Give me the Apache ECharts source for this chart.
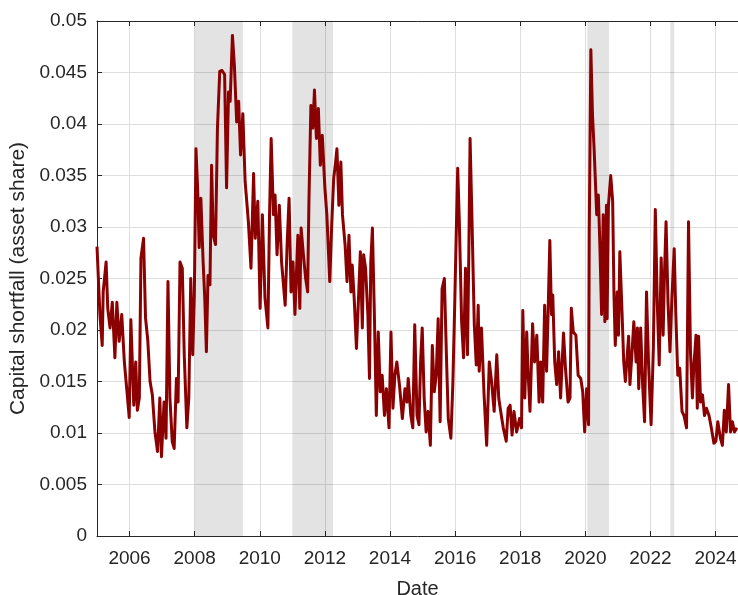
<!DOCTYPE html>
<html>
<head>
<meta charset="utf-8">
<script src="https://cdn.jsdelivr.net/npm/echarts@6/dist/echarts.min.js"></script>
<style>
  html, body { margin: 0; padding: 0; background: #fff; }
  #chart { width: 738px; height: 595px; }
</style>
</head>
<body>
<div id="chart"></div>
<script>
// decimal years
const dates = [
  2005.00, 2005.09, 2005.16, 2005.19, 2005.28, 2005.33, 2005.40, 2005.47, 2005.55, 2005.61,
  2005.68, 2005.76, 2005.84, 2005.91, 2005.99, 2006.04, 2006.13, 2006.19, 2006.24, 2006.30,
  2006.35, 2006.43, 2006.49, 2006.56, 2006.63, 2006.70, 2006.78, 2006.86, 2006.93, 2006.98,
  2007.06, 2007.12, 2007.18, 2007.24, 2007.31, 2007.37, 2007.44, 2007.49, 2007.55, 2007.62,
  2007.68, 2007.76, 2007.82, 2007.88, 2007.94, 2007.99, 2008.04, 2008.09, 2008.14, 2008.19,
  2008.26, 2008.31, 2008.36, 2008.41, 2008.47, 2008.52, 2008.57, 2008.64, 2008.70, 2008.77,
  2008.84, 2008.92, 2008.98, 2009.04, 2009.09, 2009.16, 2009.22, 2009.29, 2009.35, 2009.41,
  2009.48, 2009.55, 2009.61, 2009.65, 2009.73, 2009.81, 2009.86, 2009.94, 2010.01, 2010.08,
  2010.16, 2010.25, 2010.30, 2010.35, 2010.42, 2010.47, 2010.53, 2010.60, 2010.67, 2010.78,
  2010.84, 2010.90, 2010.96, 2011.02, 2011.08, 2011.17, 2011.23, 2011.27, 2011.34, 2011.41,
  2011.47, 2011.51, 2011.57, 2011.63, 2011.68, 2011.74, 2011.80, 2011.86, 2011.92, 2012.00,
  2012.06, 2012.15, 2012.21, 2012.27, 2012.33, 2012.37, 2012.43, 2012.49, 2012.54, 2012.62,
  2012.68, 2012.74, 2012.80, 2012.84, 2012.90, 2012.97, 2013.02, 2013.09, 2013.15, 2013.19,
  2013.25, 2013.32, 2013.37, 2013.41, 2013.46, 2013.52, 2013.58, 2013.64, 2013.70, 2013.76,
  2013.83, 2013.89, 2013.97, 2014.03, 2014.09, 2014.15, 2014.21, 2014.29, 2014.38, 2014.46,
  2014.52, 2014.56, 2014.64, 2014.70, 2014.76, 2014.83, 2014.89, 2014.94, 2014.99, 2015.05,
  2015.11, 2015.17, 2015.24, 2015.30, 2015.36, 2015.42, 2015.48, 2015.54, 2015.60, 2015.67,
  2015.73, 2015.79, 2015.87, 2015.93, 2015.99, 2016.03, 2016.08, 2016.13, 2016.20, 2016.26,
  2016.32, 2016.38, 2016.42, 2016.46, 2016.52, 2016.59, 2016.65, 2016.71, 2016.74, 2016.81,
  2016.89, 2016.97, 2017.05, 2017.12, 2017.20, 2017.28, 2017.34, 2017.40, 2017.48, 2017.57,
  2017.63, 2017.69, 2017.75, 2017.81, 2017.89, 2017.98, 2018.04, 2018.08, 2018.14, 2018.20,
  2018.24, 2018.30, 2018.38, 2018.44, 2018.51, 2018.58, 2018.63, 2018.69, 2018.75, 2018.81,
  2018.86, 2018.91, 2018.96, 2019.00, 2019.06, 2019.12, 2019.18, 2019.24, 2019.33, 2019.39,
  2019.47, 2019.53, 2019.57, 2019.63, 2019.71, 2019.78, 2019.86, 2019.92, 2019.98, 2020.04,
  2020.10, 2020.12, 2020.17, 2020.22, 2020.27, 2020.31, 2020.35, 2020.40, 2020.45, 2020.50,
  2020.55, 2020.60, 2020.65, 2020.67, 2020.71, 2020.78, 2020.84, 2020.88, 2020.92, 2020.98,
  2021.02, 2021.06, 2021.13, 2021.18, 2021.23, 2021.29, 2021.33, 2021.37, 2021.43, 2021.49,
  2021.56, 2021.60, 2021.64, 2021.70, 2021.76, 2021.82, 2021.88, 2021.94, 2022.02, 2022.09,
  2022.15, 2022.21, 2022.27, 2022.33, 2022.39, 2022.43, 2022.48, 2022.54, 2022.60, 2022.66,
  2022.73, 2022.78, 2022.84, 2022.90, 2022.97, 2023.03, 2023.11, 2023.17, 2023.23, 2023.29,
  2023.33, 2023.40, 2023.44, 2023.48, 2023.54, 2023.60, 2023.66, 2023.72, 2023.80, 2023.87,
  2023.95, 2024.01, 2024.07, 2024.15, 2024.21, 2024.27, 2024.33, 2024.40, 2024.46, 2024.52,
  2024.58, 2024.66
]

const shortfall = [
  0.0281, 0.0215, 0.0185, 0.0237, 0.0266, 0.0221, 0.0202, 0.0227, 0.0173, 0.0227,
  0.0189, 0.0215, 0.0169, 0.0144, 0.0115, 0.0210, 0.0127, 0.0169, 0.0122, 0.0134,
  0.0270, 0.0289, 0.0212, 0.0190, 0.0150, 0.0137, 0.0101, 0.0082, 0.0134, 0.0077,
  0.0130, 0.0095, 0.0247, 0.0134, 0.0092, 0.0085, 0.0153, 0.0130, 0.0266, 0.0260,
  0.0176, 0.0105, 0.0134, 0.0250, 0.0176, 0.0234, 0.0376, 0.0338, 0.0280, 0.0328,
  0.0266, 0.0231, 0.0179, 0.0253, 0.0244, 0.0360, 0.0292, 0.0283, 0.0396, 0.0451,
  0.0452, 0.0448, 0.0338, 0.0431, 0.0422, 0.0486, 0.0457, 0.0402, 0.0422, 0.0370,
  0.0410, 0.0344, 0.0321, 0.0305, 0.0260, 0.0352, 0.0289, 0.0325, 0.0221, 0.0312,
  0.0231, 0.0202, 0.0312, 0.0386, 0.0312, 0.0331, 0.0273, 0.0321, 0.0266, 0.0224,
  0.0283, 0.0328, 0.0237, 0.0266, 0.0215, 0.0292, 0.0221, 0.0299, 0.0273, 0.0250,
  0.0237, 0.0325, 0.0418, 0.0396, 0.0433, 0.0386, 0.0415, 0.0360, 0.0389, 0.0338,
  0.0312, 0.0247, 0.0302, 0.0347, 0.0363, 0.0376, 0.0321, 0.0363, 0.0312, 0.0283,
  0.0247, 0.0292, 0.0237, 0.0263, 0.0231, 0.0182, 0.0221, 0.0276, 0.0202, 0.0273,
  0.0260, 0.0215, 0.0153, 0.0266, 0.0299, 0.0215, 0.0117, 0.0198, 0.0140, 0.0156,
  0.0117, 0.0143, 0.0105, 0.0198, 0.0124, 0.0156, 0.0169, 0.0147, 0.0114, 0.0143,
  0.0130, 0.0153, 0.0117, 0.0105, 0.0205, 0.0117, 0.0108, 0.0169, 0.0202, 0.0134,
  0.0101, 0.0121, 0.0088, 0.0185, 0.0140, 0.0156, 0.0211, 0.0111, 0.0240, 0.0250,
  0.0179, 0.0114, 0.0095, 0.0147, 0.0227, 0.0286, 0.0357, 0.0305, 0.0208, 0.0173,
  0.0260, 0.0176, 0.0270, 0.0386, 0.0305, 0.0205, 0.0166, 0.0224, 0.0160, 0.0202,
  0.0137, 0.0088, 0.0169, 0.0150, 0.0121, 0.0176, 0.0134, 0.0121, 0.0105, 0.0092,
  0.0124, 0.0127, 0.0098, 0.0121, 0.0101, 0.0114, 0.0105, 0.0219, 0.0134, 0.0198,
  0.0160, 0.0121, 0.0206, 0.0169, 0.0195, 0.0130, 0.0169, 0.0130, 0.0224, 0.0160,
  0.0221, 0.0287, 0.0215, 0.0234, 0.0169, 0.0147, 0.0179, 0.0134, 0.0197, 0.0163,
  0.0130, 0.0134, 0.0221, 0.0198, 0.0195, 0.0156, 0.0153, 0.0140, 0.0101, 0.0143,
  0.0108, 0.0292, 0.0472, 0.0409, 0.0376, 0.0344, 0.0312, 0.0331, 0.0279, 0.0215,
  0.0312, 0.0208, 0.0321, 0.0211, 0.0321, 0.0350, 0.0325, 0.0234, 0.0185, 0.0237,
  0.0195, 0.0276, 0.0215, 0.0169, 0.0150, 0.0176, 0.0194, 0.0147, 0.0176, 0.0208,
  0.0169, 0.0202, 0.0143, 0.0202, 0.0147, 0.0111, 0.0237, 0.0169, 0.0108, 0.0182,
  0.0317, 0.0227, 0.0166, 0.0270, 0.0195, 0.0253, 0.0305, 0.0227, 0.0179, 0.0231,
  0.0279, 0.0215, 0.0156, 0.0163, 0.0121, 0.0117, 0.0105, 0.0305, 0.0179, 0.0134,
  0.0163, 0.0195, 0.0124, 0.0194, 0.0130, 0.0137, 0.0117, 0.0124, 0.0117, 0.0105,
  0.0090, 0.0092, 0.0111, 0.0095, 0.0088, 0.0122, 0.0101, 0.0147, 0.0101, 0.0111,
  0.0101, 0.0105
]

// shaded periods (start / end in decimal years)
const shadeStart = [2008.00, 2011.00, 2020.06, 2022.61]
const shadeEnd = [2009.48, 2012.25, 2020.73, 2022.73]

const yearTicks = [2006, 2008, 2010, 2012, 2014, 2016, 2018, 2020, 2022, 2024]

const textColor = '#262626'
const font = '"Liberation Sans", Arial, Helvetica, sans-serif'

let chart = echarts.init(document.getElementById('chart'), null, { renderer: 'canvas' })

let points = dates.map((d, i) => [d, shortfall[i]])
let shades = shadeStart.map((s, i) => [{ xAxis: s }, { xAxis: shadeEnd[i] }])

chart.setOption({
    animation: false,
    backgroundColor: '#ffffff',
    grid: {
        left: 97,
        right: 0,
        top: 21,
        bottom: 59,
        containLabel: false,
        outerBoundsMode: 'none'
    },
    xAxis: [
        {
            type: 'value',
            min: 2005,
            max: 2024.69,
            name: 'Date',
            nameLocation: 'middle',
            nameGap: 43,
            nameTextStyle: { color: textColor, fontSize: 20, fontFamily: font },
            axisLine: { show: true, lineStyle: { color: textColor, width: 1 } },
            axisTick: { show: true, inside: true, length: 5, customValues: yearTicks, lineStyle: { color: textColor } },
            axisLabel: {
                show: true,
                customValues: yearTicks,
                color: textColor,
                fontSize: 19,
                fontFamily: font,
                margin: 13,
                formatter: (v) => String(Math.round(v))
            },
            splitLine: { show: true, lineStyle: { color: '#dedede', width: 1 } }
        },
        {
            type: 'value',
            position: 'top',
            min: 2005,
            max: 2024.69,
            axisLine: { show: true, lineStyle: { color: textColor, width: 1 } },
            axisTick: { show: true, inside: true, length: 5, customValues: yearTicks, lineStyle: { color: textColor } },
            axisLabel: { show: false },
            splitLine: { show: false }
        }
    ],
    yAxis: {
        type: 'value',
        min: 0,
        max: 0.05,
        interval: 0.005,
        name: 'Capital shortfall (asset share)',
        nameLocation: 'middle',
        nameGap: 66,
        nameTextStyle: { color: textColor, fontSize: 21, fontFamily: font },
        axisLine: { show: true, lineStyle: { color: textColor, width: 1 } },
        axisTick: { show: true, inside: true, length: 5, lineStyle: { color: textColor } },
        axisLabel: {
            color: textColor,
            fontSize: 19,
            fontFamily: font,
            margin: 10,
            formatter: (v) => String(+v.toFixed(3))
        },
        splitLine: { show: true, lineStyle: { color: '#dedede', width: 1 } }
    },
    series: [
        {
            type: 'line',
            data: points,
            showSymbol: false,
            symbol: 'none',
            lineStyle: { color: '#8b0000', width: 3, join: 'round' },
            itemStyle: { color: '#8b0000' },
            markArea: {
                silent: true,
                itemStyle: { color: 'rgba(0,0,0,0.11)' },
                data: shades
            }
        }
    ]
})
</script>
</body>
</html>
